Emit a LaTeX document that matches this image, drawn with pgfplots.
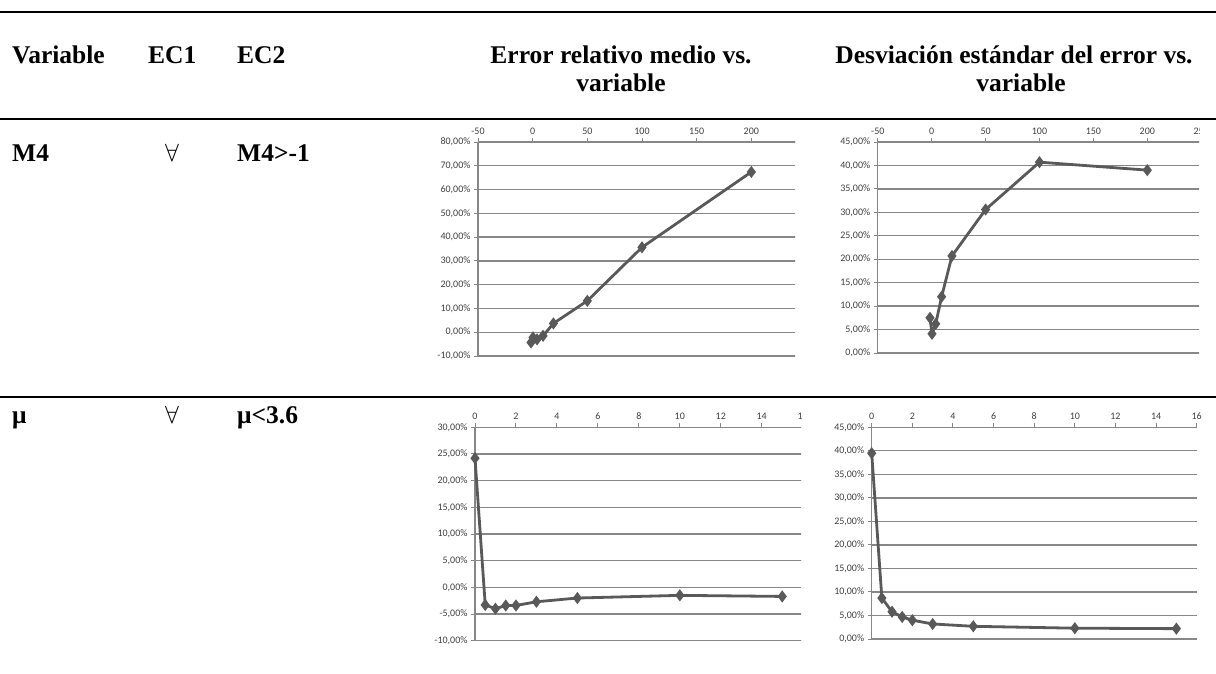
\documentclass[border=0pt]{standalone}
\usepackage{pgfplots}
\pgfplotsset{compat=1.18}
\usepackage{fontspec}
\setmainfont{Liberation Serif}
\newfontfamily\calibri{Carlito}
\definecolor{gridc}{HTML}{878787}
\definecolor{serc}{HTML}{595959}
\definecolor{labc}{HTML}{404040}
\pgfplotsset{excel/.style={scale only axis, anchor=south west,
  axis x line*=top, axis y line*=left, ymajorgrids,
  grid style={line width=1.3pt, color=gridc},
  axis line style={line width=1.3pt, color=gridc},
  tick style={line width=1pt, color=gridc},
  major tick length=4pt, tick align=outside,
  ticklabel style={font=\calibri\fontsize{10}{12}\selectfont, text=labc},
  /pgf/number format/assume math mode=true,
  yticklabel={\pgfmathprintnumber[fixed,fixed zerofill,precision=2,use comma]{\tick}\%},
  xticklabel={\pgfmathprintnumber{\tick}},
  clip=false},
  ser/.style={color=serc, line width=2.8pt, mark=diamond*, mark size=3.8pt, mark options={solid}}}
\newcommand\hd{\fontsize{25.5}{28}\selectfont\bfseries}
\begin{document}
\begin{tikzpicture}
\useasboundingbox (0pt,0pt) rectangle (1216pt,-673pt);
% rules
\draw[line width=2.5pt] (0pt,-12pt) -- (1216pt,-12pt);
\draw[line width=2.5pt] (0pt,-119pt) -- (1216pt,-119pt);
\draw[line width=2.5pt] (0pt,-397pt) -- (1216pt,-397pt);
% header
\node[anchor=base west, inner sep=0pt] at (12pt,-63pt) {\hd Variable};
\node[anchor=base west, inner sep=0pt] at (148pt,-63pt) {\hd EC1};
\node[anchor=base west, inner sep=0pt] at (237pt,-63pt) {\hd EC2};
\node[anchor=base, inner sep=0pt] at (621pt,-63pt) {\hd Error relativo medio vs.};
\node[anchor=base, inner sep=0pt] at (621pt,-91pt) {\hd variable};
\node[anchor=base, inner sep=0pt] at (1014pt,-63pt) {\hd Desviación estándar del error vs.};
\node[anchor=base, inner sep=0pt] at (1021pt,-91pt) {\hd variable};
% row labels
\node[anchor=base west, inner sep=0pt] at (12pt,-161pt) {\hd M4};
\node[anchor=base west, inner sep=0pt] at (165pt,-161pt) {\fontsize{25}{28}\selectfont$\forall$};
\node[anchor=base west, inner sep=0pt] at (237pt,-161pt) {\hd M4>-1};
\node[anchor=base west, inner sep=0pt] at (12pt,-423pt) {\hd μ};
\node[anchor=base west, inner sep=0pt] at (165pt,-423pt) {\fontsize{25}{28}\selectfont$\forall$};
\node[anchor=base west, inner sep=0pt] at (237pt,-423pt) {\hd μ<3.6};
% chart 1
\begin{scope}
\clip (400pt,-121pt) rectangle (795pt,-395pt);
\begin{axis}[excel, at={(478pt,-356pt)}, width=328pt, height=214pt,
  xmin=-50, xmax=250, ymin=-10, ymax=80,
  xtick={-50,0,...,250}, ytick={-10,0,...,80}]
\addplot[ser] coordinates {(-1.5,-4.3) (0.3,-2.2) (4,-3.0) (9.5,-1.5) (19,3.7) (50,13.2) (100,35.7) (200,67.4)};
\end{axis}
\end{scope}
% chart 2
\begin{scope}
\clip (800pt,-121pt) rectangle (1199pt,-395pt);
\begin{axis}[excel, at={(877.8pt,-353pt)}, width=323.4pt, height=211pt,
  xmin=-50, xmax=250, ymin=0, ymax=45,
  xtick={-50,0,...,250}, ytick={0,5,...,45}]
\addplot[ser] coordinates {(-1.6,7.5) (0.3,4.1) (3.7,6.2) (9.2,12.0) (18.8,20.7) (50,30.6) (100,40.7) (200,39.0)};
\end{axis}
\end{scope}
% chart 3
\begin{scope}
\clip (400pt,-399pt) rectangle (801pt,-673pt);
\begin{axis}[excel, at={(475pt,-640.7pt)}, width=327.7pt, height=213.4pt,
  xmin=0, xmax=16, ymin=-10, ymax=30,
  xtick={0,2,...,16}, ytick={-10,-5,...,30}]
\addplot[ser] coordinates {(0,24.2) (0.5,-3.3) (1,-4.0) (1.5,-3.4) (2,-3.4) (3,-2.7) (5,-2.0) (10,-1.5) (15,-1.7)};
\end{axis}
\end{scope}
% chart 4
\begin{scope}
\clip (805pt,-399pt) rectangle (1216pt,-673pt);
\begin{axis}[excel, at={(871.7pt,-639pt)}, width=325pt, height=211.7pt,
  xmin=0, xmax=16, ymin=0, ymax=45,
  xtick={0,2,...,16}, ytick={0,5,...,45}]
\addplot[ser] coordinates {(0,39.5) (0.5,8.7) (1,5.8) (1.5,4.7) (2,4.0) (3,3.2) (5,2.7) (10,2.3) (15,2.2)};
\end{axis}
\end{scope}
\end{tikzpicture}
\end{document}
